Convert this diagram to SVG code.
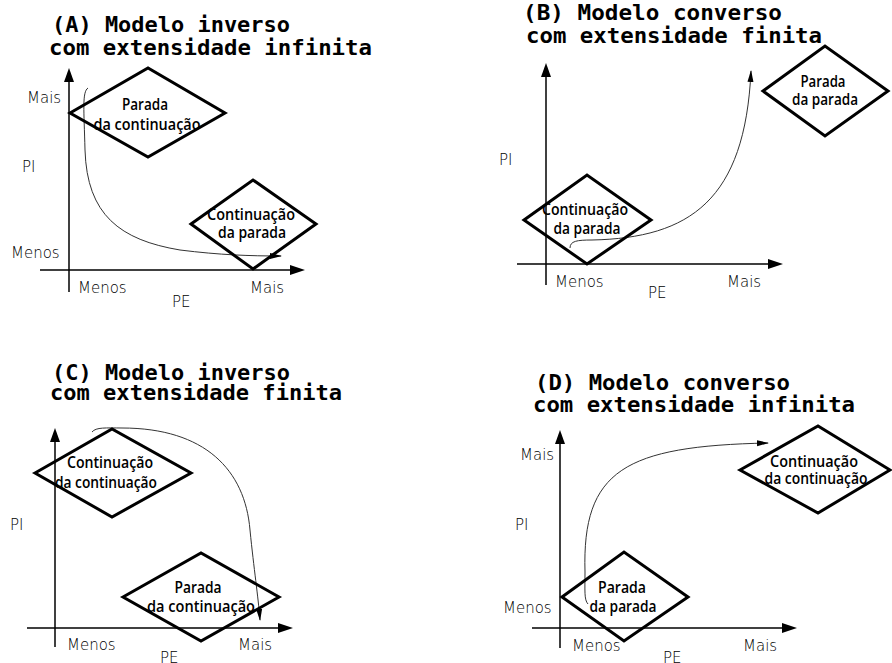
<svg xmlns="http://www.w3.org/2000/svg" width="892" height="663" viewBox="0 0 892 663">
<defs>
<style>
.title{font-family:"DejaVu Sans Mono","Liberation Mono",monospace;font-weight:bold;font-size:21px;fill:#000}
.hand{font-family:"DejaVu Sans","Liberation Sans",sans-serif;font-weight:200;font-size:15px;fill:#000}
.dt{font-family:"Open Sans","Noto Sans",sans-serif;font-weight:600;font-size:16px;fill:#000;text-anchor:middle}
.dia{fill:none;stroke:#000;stroke-width:3;stroke-linejoin:miter}
.axis{stroke:#000;stroke-width:1.5;fill:none}
.head{fill:#000}
.curve{fill:none;stroke:#333;stroke-width:1;marker-end:url(#arr)}
</style>
<marker id="arr" viewBox="0 0 12 8" refX="11" refY="4" markerWidth="12" markerHeight="8" markerUnits="userSpaceOnUse" orient="auto">
<path d="M0,1 L12,4 L0,7 Z" fill="#000"/>
</marker>
</defs>

<g id="titles">
<text class="title" x="52" y="32" textLength="238" lengthAdjust="spacingAndGlyphs">(A) Modelo inverso</text>
<text class="title" x="49" y="55" textLength="323" lengthAdjust="spacingAndGlyphs">com extensidade infinita</text>
<text class="title" x="523" y="20" textLength="259" lengthAdjust="spacingAndGlyphs">(B) Modelo converso</text>
<text class="title" x="526" y="43" textLength="296" lengthAdjust="spacingAndGlyphs">com extensidade finita</text>
<text class="title" x="52" y="380" textLength="238" lengthAdjust="spacingAndGlyphs">(C) Modelo inverso</text>
<text class="title" x="50" y="400" textLength="292" lengthAdjust="spacingAndGlyphs">com extensidade finita</text>
<text class="title" x="535" y="390" textLength="255" lengthAdjust="spacingAndGlyphs">(D) Modelo converso</text>
<text class="title" x="533" y="412" textLength="322" lengthAdjust="spacingAndGlyphs">com extensidade infinita</text>
</g>

<g id="axes">
<line class="axis" x1="69" y1="80" x2="69" y2="292"/>
<path class="head" d="M69,68 L64,82 L74,82 Z"/>
<line class="axis" x1="40" y1="270" x2="292" y2="270"/>
<path class="head" d="M305,270 L290,265 L290,275 Z"/>

<line class="axis" x1="546" y1="75" x2="546" y2="285"/>
<path class="head" d="M546,63 L541,77 L551,77 Z"/>
<line class="axis" x1="517" y1="264" x2="770" y2="264"/>
<path class="head" d="M783,264 L768,259 L768,269 Z"/>

<line class="axis" x1="55" y1="440" x2="55" y2="647"/>
<path class="head" d="M55,428 L50,442 L60,442 Z"/>
<line class="axis" x1="27" y1="628" x2="280" y2="628"/>
<path class="head" d="M293,628 L278,623 L278,633 Z"/>

<line class="axis" x1="560" y1="442" x2="560" y2="648"/>
<path class="head" d="M560,430 L555,444 L565,444 Z"/>
<line class="axis" x1="532" y1="628" x2="784" y2="628"/>
<path class="head" d="M797,628 L782,623 L782,633 Z"/>
</g>

<g id="axis-labels">
<text class="hand" x="27" y="103">Mais</text>
<text class="hand" x="22" y="172">PI</text>
<text class="hand" x="11" y="258">Menos</text>
<text class="hand" x="78" y="293">Menos</text>
<text class="hand" x="250" y="293">Mais</text>
<text class="hand" x="172" y="307">PE</text>

<text class="hand" x="499" y="165">PI</text>
<text class="hand" x="555" y="287">Menos</text>
<text class="hand" x="727" y="287">Mais</text>
<text class="hand" x="648" y="298">PE</text>

<text class="hand" x="10" y="530">PI</text>
<text class="hand" x="67" y="650">Menos</text>
<text class="hand" x="238" y="650">Mais</text>
<text class="hand" x="160" y="663">PE</text>

<text class="hand" x="520" y="460">Mais</text>
<text class="hand" x="515" y="530">PI</text>
<text class="hand" x="503" y="613">Menos</text>
<text class="hand" x="572" y="651">Menos</text>
<text class="hand" x="743" y="651">Mais</text>
<text class="hand" x="663" y="663">PE</text>
</g>

<g id="connectors">
<path class="curve" d="M88,88 C82,92 84,110 85,150 C87,215 120,240 180,250 C220,255 250,256 281,256"/>
<path class="curve" d="M570,248 C570,241 577,240 592,240 C690,238 745,200 751,71"/>
<path class="curve" d="M92,432 C96,427 106,428 122,428 C205,428 245,470 250,530 C254,570 258,595 260,620"/>
<path class="curve" d="M588,604 C584,600 585,590 585,572 C582,470 625,446 768,443"/>
</g>

<g id="node-A1">
<polygon class="dia" points="70,113 148,68 225,113 148,157"/>
<text class="dt" x="145" y="110" textLength="46" lengthAdjust="spacingAndGlyphs">Parada</text>
<text class="dt" x="147" y="130" textLength="107" lengthAdjust="spacingAndGlyphs">da continuação</text>
</g>
<g id="node-A2">
<polygon class="dia" points="191,224 253,180 316,224 253,269"/>
<text class="dt" x="251" y="220" textLength="88" lengthAdjust="spacingAndGlyphs">Continuação</text>
<text class="dt" x="252" y="238" textLength="68" lengthAdjust="spacingAndGlyphs">da parada</text>
</g>
<g id="node-B1">
<polygon class="dia" points="524,220 587,175 651,220 587,264"/>
<text class="dt" x="585" y="215" textLength="86" lengthAdjust="spacingAndGlyphs">Continuação</text>
<text class="dt" x="587" y="234" textLength="67" lengthAdjust="spacingAndGlyphs">da parada</text>
</g>
<g id="node-B2">
<polygon class="dia" points="763,91 825,46 888,91 825,136"/>
<text class="dt" x="823" y="87" textLength="45" lengthAdjust="spacingAndGlyphs">Parada</text>
<text class="dt" x="825" y="105" textLength="66" lengthAdjust="spacingAndGlyphs">da parada</text>
</g>
<g id="node-C1">
<polygon class="dia" points="35,473 112,429 191,473 112,517"/>
<text class="dt" x="110" y="468" textLength="86" lengthAdjust="spacingAndGlyphs">Continuação</text>
<text class="dt" x="106" y="488" textLength="102" lengthAdjust="spacingAndGlyphs">da continuação</text>
</g>
<g id="node-C2">
<polygon class="dia" points="123,597 201,553 279,597 201,641"/>
<text class="dt" x="198" y="593" textLength="47" lengthAdjust="spacingAndGlyphs">Parada</text>
<text class="dt" x="201" y="612" textLength="108" lengthAdjust="spacingAndGlyphs">da continuação</text>
</g>
<g id="node-D1">
<polygon class="dia" points="562,597 624,552 688,597 624,641"/>
<text class="dt" x="622" y="593" textLength="48" lengthAdjust="spacingAndGlyphs">Parada</text>
<text class="dt" x="623" y="612" textLength="67" lengthAdjust="spacingAndGlyphs">da parada</text>
</g>
<g id="node-D2">
<polygon class="dia" points="740,470 818,426 890,470 818,513"/>
<text class="dt" x="814" y="467" textLength="88" lengthAdjust="spacingAndGlyphs">Continuação</text>
<text class="dt" x="816" y="484" textLength="103" lengthAdjust="spacingAndGlyphs">da continuação</text>
</g>
</svg>
